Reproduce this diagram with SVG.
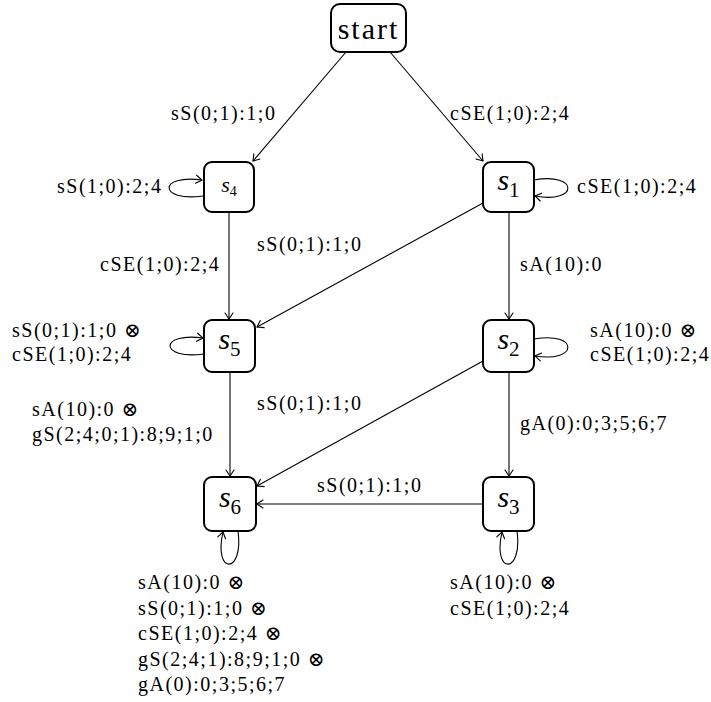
<svg xmlns="http://www.w3.org/2000/svg" width="711" height="702" viewBox="0 0 711 702">
<style>
.node{fill:#fff;stroke:#000;stroke-width:2}
.e{fill:none;stroke:#000;stroke-width:1.1;marker-end:url(#arr)}
text{font-family:'Liberation Serif','DejaVu Serif','Times New Roman',serif;fill:#000}
.lbl{font-size:20px;letter-spacing:1.5px}
</style>
<defs>
<marker id="arr" viewBox="-8 -5 10 10" refX="0" refY="0" markerWidth="10" markerHeight="10" markerUnits="userSpaceOnUse" orient="auto">
<path d="M -6 -4 Q -1.5 -1 0 0 Q -1.5 1 -6 4" fill="none" stroke="#000" stroke-width="1.1" stroke-linecap="round"/>
</marker>
</defs>
<rect width="711" height="702" fill="#fff"/>
<g id="connectors">
<path class="e" d="M 346 52 L 253 161"/>
<path class="e" d="M 390 52 L 483 161"/>
<path class="e" d="M 229 212 L 229 319"/>
<path class="e" d="M 509 212 L 509 319"/>
<path class="e" d="M 483 203 L 257 327"/>
<path class="e" d="M 230 372 L 230 476"/>
<path class="e" d="M 509 372 L 509 476"/>
<path class="e" d="M 483 361 L 257 486"/>
<path class="e" d="M 483 504 L 257 504"/>
<path class="e" d="M 203 196 C 158 202, 158 174, 202 180"/>
<path class="e" d="M 534 180 C 579 172, 579 204, 535 196"/>
<path class="e" d="M 204 354 C 159 360, 159 332, 203 338"/>
<path class="e" d="M 534 339 C 579 331, 579 363, 535 356"/>
<path class="e" d="M 238 531 C 244 575, 213 575, 223 532"/>
<path class="e" d="M 517 531 C 523 575, 492 575, 502 532"/>
</g>
<g id="start">
<rect class="node" x="331" y="4" width="75" height="48" rx="9"/>
<text x="368.5" y="39" text-anchor="middle" font-family="Liberation Serif, serif" font-size="30" letter-spacing="2">start</text>
</g>
<g id="s4">
<rect class="node" x="204" y="162" width="50" height="50" rx="8"/>
<text x="229" y="192" text-anchor="middle"><tspan font-style="italic" font-size="22">s</tspan><tspan font-size="14" dy="4">4</tspan></text>
</g>
<g id="s1">
<rect class="node" x="483" y="162" width="51" height="50" rx="8"/>
<text x="508.5" y="190" text-anchor="middle"><tspan font-style="italic" font-size="30">s</tspan><tspan font-size="21" dy="7">1</tspan></text>
</g>
<g id="s5">
<rect class="node" x="204" y="320" width="51" height="52" rx="8"/>
<text x="229.5" y="349" text-anchor="middle"><tspan font-style="italic" font-size="30">s</tspan><tspan font-size="21" dy="7">5</tspan></text>
</g>
<g id="s2">
<rect class="node" x="483" y="320" width="51" height="52" rx="8"/>
<text x="508.5" y="349" text-anchor="middle"><tspan font-style="italic" font-size="30">s</tspan><tspan font-size="21" dy="7">2</tspan></text>
</g>
<g id="s6">
<rect class="node" x="204" y="477" width="52" height="54" rx="8"/>
<text x="230" y="507" text-anchor="middle"><tspan font-style="italic" font-size="30">s</tspan><tspan font-size="21" dy="7">6</tspan></text>
</g>
<g id="s3">
<rect class="node" x="483" y="477" width="51" height="54" rx="8"/>
<text x="508.5" y="507" text-anchor="middle"><tspan font-style="italic" font-size="30">s</tspan><tspan font-size="21" dy="7">3</tspan></text>
</g>
<g id="labels">
<text class="lbl" x="171" y="120">sS(0;1):1;0</text>
<text class="lbl" x="450" y="120">cSE(1;0):2;4</text>
<text class="lbl" x="57" y="193">sS(1;0):2;4</text>
<text class="lbl" x="577" y="193">cSE(1;0):2;4</text>
<text class="lbl" x="100" y="271">cSE(1;0):2;4</text>
<text class="lbl" x="257" y="251">sS(0;1):1;0</text>
<text class="lbl" x="520" y="271">sA(10):0</text>
<text class="lbl" x="12" y="337">sS(0;1):1;0 ⊗</text>
<text class="lbl" x="12" y="361">cSE(1;0):2;4</text>
<text class="lbl" x="590" y="337">sA(10):0 ⊗</text>
<text class="lbl" x="590" y="361">cSE(1;0):2;4</text>
<text class="lbl" x="32" y="416">sA(10):0 ⊗</text>
<text class="lbl" x="32" y="441">gS(2;4;0;1):8;9;1;0</text>
<text class="lbl" x="257" y="410">sS(0;1):1;0</text>
<text class="lbl" x="520" y="430">gA(0):0;3;5;6;7</text>
<text class="lbl" x="317" y="492">sS(0;1):1;0</text>
<text class="lbl" x="138" y="589">sA(10):0 ⊗</text>
<text class="lbl" x="138" y="614.5">sS(0;1):1;0 ⊗</text>
<text class="lbl" x="138" y="640">cSE(1;0):2;4 ⊗</text>
<text class="lbl" x="138" y="665.5">gS(2;4;1):8;9;1;0 ⊗</text>
<text class="lbl" x="138" y="691">gA(0):0;3;5;6;7</text>
<text class="lbl" x="450" y="589">sA(10):0 ⊗</text>
<text class="lbl" x="450" y="614.5">cSE(1;0):2;4</text>
</g>
</svg>
